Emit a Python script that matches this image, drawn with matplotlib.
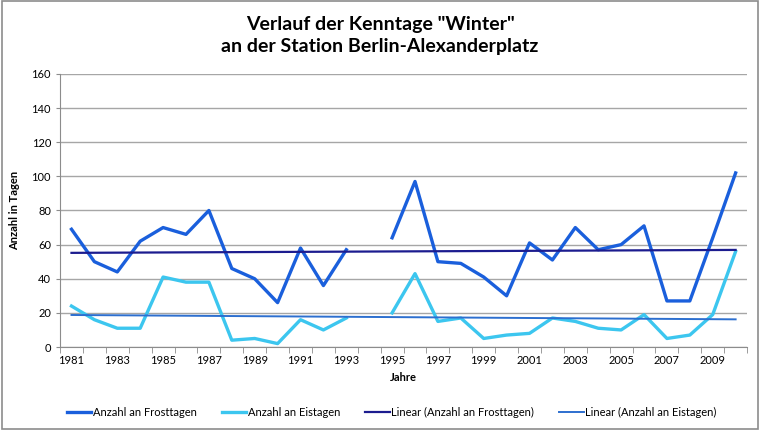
import numpy as np
import matplotlib.pyplot as plt

jahre = list(range(1981, 2011))
frosttage = [69, 50, 44, 62, 70, 66, 80, 46, 40, 26, 58, 36, 57, np.nan, 64,
             97, 50, 49, 41, 30, 61, 51, 70, 57, 60, 71, 27, 27, 64, 102]
eistage = [24, 16, 11, 11, 41, 38, 38, 4, 5, 2, 16, 10, 17, np.nan, 20,
           43, 15, 17, 5, 7, 8, 17, 15, 11, 10, 19, 5, 7, 19, 56]

plt.rcParams['font.family'] = ['Lato', 'DejaVu Sans']

x = np.arange(len(jahre))
fr = np.array(frosttage, dtype=float)
ei = np.array(eistage, dtype=float)

def trend(y):
    ok = ~np.isnan(y)
    p = np.polyfit(x[ok], y[ok], 1)
    return np.polyval(p, x)

fig = plt.figure(figsize=(7.6, 4.3), dpi=100)
ax = fig.add_axes([0.079, 0.193, 0.904, 0.635])

ax.plot(x, fr, color='#1a5fdc', lw=2.4, label='Anzahl an Frosttagen', zorder=4)
ax.plot(x, ei, color='#3cc6ef', lw=2.4, label='Anzahl an Eistagen', zorder=3)
ax.plot(x, trend(fr), color='#1c1c8f', lw=1.6, label='Linear (Anzahl an Frosttagen)', zorder=5)
ax.plot(x, trend(ei), color='#2d6fcf', lw=1.4, label='Linear (Anzahl an Eistagen)', zorder=5)

ax.set_xlim(-0.5, len(jahre) - 0.5)
ax.set_ylim(0, 160)
ax.set_yticks(range(0, 161, 20))
ax.yaxis.grid(True, color='#a6a6a6', lw=1)
ax.set_axisbelow(True)

ax.set_xticks(x[::2])
ax.set_xticklabels([str(j) for j in jahre[::2]])
ax.set_xticks(np.arange(-0.5, len(jahre)), minor=True)
ax.tick_params(axis='x', which='major', length=0, labelsize=8, pad=6)
ax.tick_params(axis='x', which='minor', length=4, color='#8c8c8c')
ax.tick_params(axis='y', length=3, color='#8c8c8c', labelsize=8)

for s in ['top', 'right']:
    ax.spines[s].set_visible(False)
for s in ['left', 'bottom']:
    ax.spines[s].set_color('#8c8c8c')

ax.set_xlabel('Jahre', fontsize=8, fontweight='bold', labelpad=4)
ax.set_ylabel('Anzahl in Tagen', fontsize=8, fontweight='bold', labelpad=8)

fig.suptitle('Verlauf der Kenntage "Winter"\nan der Station Berlin-Alexanderplatz',
             fontsize=14, fontweight='bold', y=0.962, linespacing=1.3)

fig.legend(loc='lower left', ncol=4, frameon=False, fontsize=8,
           bbox_to_anchor=(0.075, 0.005), handlelength=2.2, columnspacing=2.3,
           handletextpad=0.1)

fig.patches.append(plt.Rectangle((0.002, 0.002), 0.996, 0.996, transform=fig.transFigure,
                                 fill=False, edgecolor='#8c8c8c', lw=1.2))

fig.savefig('out.png', dpi=100)
